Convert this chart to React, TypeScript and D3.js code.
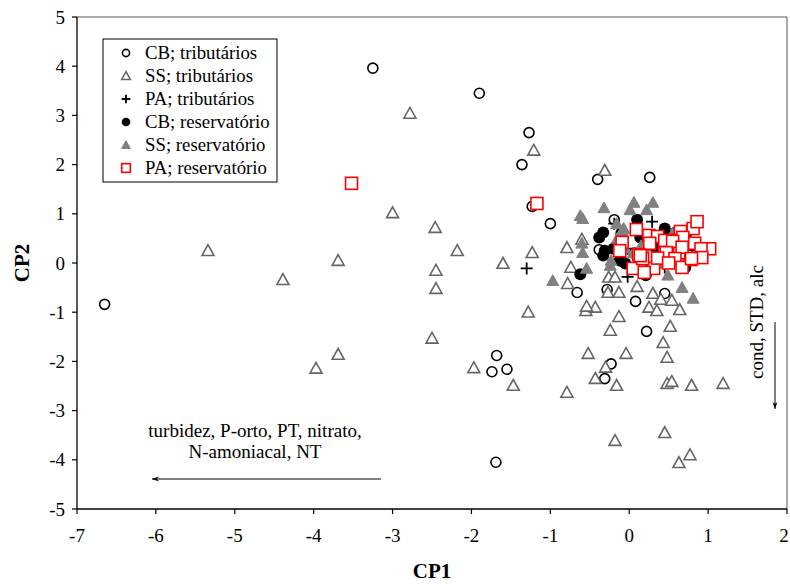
import React from "react";
import * as d3 from "d3";

const xTicks = [-7, -6, -5, -4, -3, -2, -1, 0, 1, 2];
const yTicks = [5, 4, 3, 2, 1, 0, -1, -2, -3, -4, -5];

const legendLabels = [
  "CB; tributários",
  "SS; tributários",
  "PA; tributários",
  "CB; reservatório",
  "SS; reservatório",
  "PA; reservatório",
];

const cbTrib: [number, number][] = [
  [-6.65, -0.84], [-3.25, 3.96], [-1.9, 3.45], [-1.27, 2.65], [-1.36, 2.0], [-1.23, 1.15],
  [-1.0, 0.8], [-0.66, -0.6], [-0.4, 1.7], [0.26, 1.74], [-1.68, -1.88], [-1.74, -2.21],
  [-1.55, -2.16], [-1.69, -4.05], [-0.28, -0.54], [0.08, -0.78], [0.45, -0.62], [0.22, -1.39],
  [-0.23, -2.05], [-0.31, -2.35], [-0.19, 0.88], [-0.38, 0.27],
];

const ssTrib: [number, number][] = [
  [-5.34, 0.25], [-4.39, -0.34], [-3.69, 0.05], [-3.69, -1.86], [-3.97, -2.14], [-2.78, 3.04],
  [-3.0, 1.02], [-2.46, 0.72], [-2.45, -0.15], [-2.45, -0.52], [-2.18, 0.25], [-2.5, -1.53],
  [-1.97, -2.13], [-1.47, -2.49], [-1.21, 2.29], [-1.23, 0.21], [-1.6, -0.01], [-1.28, -1.0],
  [-0.31, 1.88], [-0.79, 0.31], [-0.6, 0.48], [-0.74, -0.09], [-0.78, -0.42], [-0.55, -0.97],
  [-0.43, -0.9], [-0.27, -0.6], [-0.13, -0.6], [-0.26, -0.29], [-0.18, -0.29], [0.1, -0.48],
  [0.3, -0.62], [0.4, -0.74], [0.54, -0.76], [0.25, -0.9], [0.35, -0.97], [0.64, -0.95],
  [-0.13, -1.09], [-0.24, -1.37], [0.52, -1.29], [0.43, -1.62], [0.48, -1.92], [-0.52, -1.84],
  [-0.04, -1.84], [-0.3, -2.12], [-0.43, -2.35], [-0.16, -2.49], [0.48, -2.45], [0.54, -2.41],
  [0.79, -2.49], [1.19, -2.45], [-0.79, -2.63], [-0.18, -3.61], [0.45, -3.45], [0.77, -3.9],
  [0.63, -4.06], [-0.54, -0.88], [-0.1, 0.15], [0.2, 0.35],
];

const paTrib: [number, number][] = [
  [-1.3, -0.11], [-0.19, 0.8], [0.29, 0.84], [-0.02, 0.29], [-0.02, -0.28], [0.21, -0.01],
  [0.4, 0.36], [0.45, -0.09], [-0.1, 0.05],
];

const cbRes: [number, number][] = [
  [0.1, 0.88], [-0.33, 0.62], [-0.38, 0.52], [0.45, 0.7], [0.59, 0.62], [0.73, 0.62],
  [-0.33, 0.15], [0.14, 0.52], [-0.31, 0.25], [-0.62, -0.23], [-0.05, -0.01], [-0.12, 0.05],
  [-0.2, 0.29], [0.07, 0.2], [0.71, -0.09], [0.21, -0.25], [0.55, 0.55], [0.8, 0.35],
  [0.35, 0.3], [-0.1, 0.6],
];

const ssRes: [number, number][] = [
  [0.06, 1.23], [0.3, 1.23], [0.01, 1.08], [0.22, 1.08], [-0.32, 1.12], [-0.62, 0.96],
  [-0.59, 0.9], [-0.07, 0.7], [-0.16, 0.8], [-0.6, 0.4], [-0.09, 0.66], [-0.97, -0.36],
  [-0.54, -0.11], [-0.24, -0.05], [0.49, -0.25], [0.67, -0.5], [0.81, -0.72], [-0.59, 0.21],
  [-0.23, 0.05], [0.15, 0.35], [0.35, 0.55], [0.55, 0.6], [0.05, 0.2], [0.4, 0.0],
  [0.25, -0.1], [0.6, 0.2], [0.7, 0.05], [-0.15, 0.5], [-0.05, 0.3],
];

const paRes: [number, number][] = [
  [-3.52, 1.62], [-1.17, 1.21], [0.09, 0.68], [0.25, 0.56], [0.36, 0.54], [0.65, 0.64],
  [0.81, 0.7], [0.86, 0.84], [0.57, 0.46], [0.68, 0.52], [-0.09, 0.42], [0.26, 0.4],
  [0.45, 0.46], [0.83, 0.4], [1.02, 0.29], [0.91, 0.29], [-0.12, 0.25], [0.12, 0.17],
  [0.45, 0.19], [0.64, 0.21], [0.55, 0.44], [0.67, 0.32], [0.47, 0.21], [0.58, 0.09],
  [0.78, 0.07], [0.31, -0.11], [0.67, -0.09], [0.05, -0.11], [0.17, 0.09], [0.19, -0.19],
  [0.92, 0.11], [0.79, 0.09], [0.14, 0.15], [0.36, 0.1], [0.5, 0.0],
];

const W = 790;
const H = 584;
const M = { left: 77, right: 787, top: 17, bottom: 509 };
const FONT = "'Liberation Serif', 'Times New Roman', serif";

type Kind = "circle" | "triangle" | "plus" | "dot" | "filledTri" | "square";

function Marker({ kind, x, y, s = 1 }: { kind: Kind; x: number; y: number; s?: number }) {
  if (kind === "circle")
    return <circle cx={x} cy={y} r={5 * s} fill="none" stroke="#000" strokeWidth={1.6} />;
  if (kind === "dot") return <circle cx={x} cy={y} r={6 * s} fill="#000" />;
  if (kind === "triangle" || kind === "filledTri") {
    const h = 6 * s;
    const w = 6 * s;
    const d = `M${x},${y - h}L${x + w},${y + h * 0.8}L${x - w},${y + h * 0.8}Z`;
    return kind === "triangle" ? (
      <path d={d} fill="#fff" stroke="#666" strokeWidth={1.6} />
    ) : (
      <path d={d} fill="#808080" stroke="#808080" strokeWidth={1} />
    );
  }
  if (kind === "plus") {
    const a = 6 * s;
    return (
      <path d={`M${x - a},${y}H${x + a}M${x},${y - a}V${y + a}`} stroke="#000" strokeWidth={1.8} />
    );
  }
  const a = 6 * s;
  return (
    <rect x={x - a} y={y - a} width={2 * a} height={2 * a} fill="#fff" stroke="#f00" strokeWidth={1.6} />
  );
}

export default function App() {
  const x = d3.scaleLinear().domain([-7, 2]).range([M.left, M.right]);
  const y = d3.scaleLinear().domain([-5, 5]).range([M.bottom, M.top]);

  const series: { data: [number, number][]; kind: Kind }[] = [
    { data: cbTrib, kind: "circle" },
    { data: ssTrib, kind: "triangle" },
    { data: paTrib, kind: "plus" },
    { data: cbRes, kind: "dot" },
    { data: ssRes, kind: "filledTri" },
    { data: paRes, kind: "square" },
  ];
  const legendKinds: Kind[] = ["circle", "triangle", "plus", "dot", "filledTri", "square"];

  return (
    <svg
      width={W}
      height={H}
      style={{ position: "absolute", left: 0, top: 0, background: "#fff" }}
      fontFamily={FONT}
    >
      <defs>
        <marker id="ah" viewBox="0 0 10 10" refX="10" refY="5" markerWidth="10" markerHeight="7" orient="auto-start-reverse">
          <path d="M0,1.5L10,5L0,8.5L3,5Z" fill="#000" />
        </marker>
      </defs>
      <rect x={0} y={0} width={W} height={H} fill="#fff" />
      <line x1={M.left} x2={M.right} y1={M.top} y2={M.top} stroke="#555" strokeWidth={1} />
      <line x1={M.right} x2={M.right} y1={M.top} y2={M.bottom} stroke="#555" strokeWidth={1} />
      <line x1={M.left} x2={M.left} y1={M.top} y2={M.bottom} stroke="#000" strokeWidth={1.3} />
      <line x1={M.left} x2={M.right} y1={M.bottom} y2={M.bottom} stroke="#000" strokeWidth={1.3} />

      {xTicks.map((t) => (
        <g key={"x" + t}>
          <line x1={x(t)} x2={x(t)} y1={M.bottom} y2={M.bottom + 5} stroke="#000" strokeWidth={1.2} />
          <text x={Math.min(x(t), W - 6)} y={M.bottom + 33} fontSize={19} textAnchor="middle">
            {t}
          </text>
        </g>
      ))}
      {yTicks.map((t) => (
        <g key={"y" + t}>
          <line x1={M.left - 5} x2={M.left} y1={y(t)} y2={y(t)} stroke="#000" strokeWidth={1.2} />
          <text x={65} y={y(t) + 6.5} fontSize={19} textAnchor="end">
            {t}
          </text>
        </g>
      ))}

      <text x={(M.left + M.right) / 2} y={578} fontSize={21} fontWeight="bold" textAnchor="middle">
        CP1
      </text>
      <text
        transform={`translate(29, ${(M.top + M.bottom) / 2}) rotate(-90)`}
        fontSize={21}
        fontWeight="bold"
        textAnchor="middle"
      >
        CP2
      </text>

      {series.map((s, i) => (
        <g key={i}>
          {s.data.map((d, j) => (
            <Marker key={j} kind={s.kind} x={x(d[0])} y={y(d[1])} />
          ))}
        </g>
      ))}

      <rect x={103} y={39} width={174} height={143} fill="#fff" stroke="#000" strokeWidth={1} />
      {legendLabels.map((l, i) => (
        <g key={l}>
          <Marker kind={legendKinds[i]} x={126} y={53 + i * 23} s={0.72} />
          <text x={145} y={53 + i * 23 + 6} fontSize={18.8}>
            {l}
          </text>
        </g>
      ))}

      <text x={255} y={437} fontSize={19} textAnchor="middle">
        turbidez, P-orto, PT, nitrato,
      </text>
      <text x={255} y={458} fontSize={19} textAnchor="middle">
        N-amoniacal, NT
      </text>
      <line x1={381} x2={152} y1={479} y2={479} stroke="#000" strokeWidth={1} markerEnd="url(#ah)" />

      <text transform="translate(763, 322) rotate(-90)" fontSize={19} textAnchor="middle">
        cond, STD, alc
      </text>
      <line x1={775} x2={775} y1={322} y2={409} stroke="#000" strokeWidth={1} markerEnd="url(#ah)" />
    </svg>
  );
}
